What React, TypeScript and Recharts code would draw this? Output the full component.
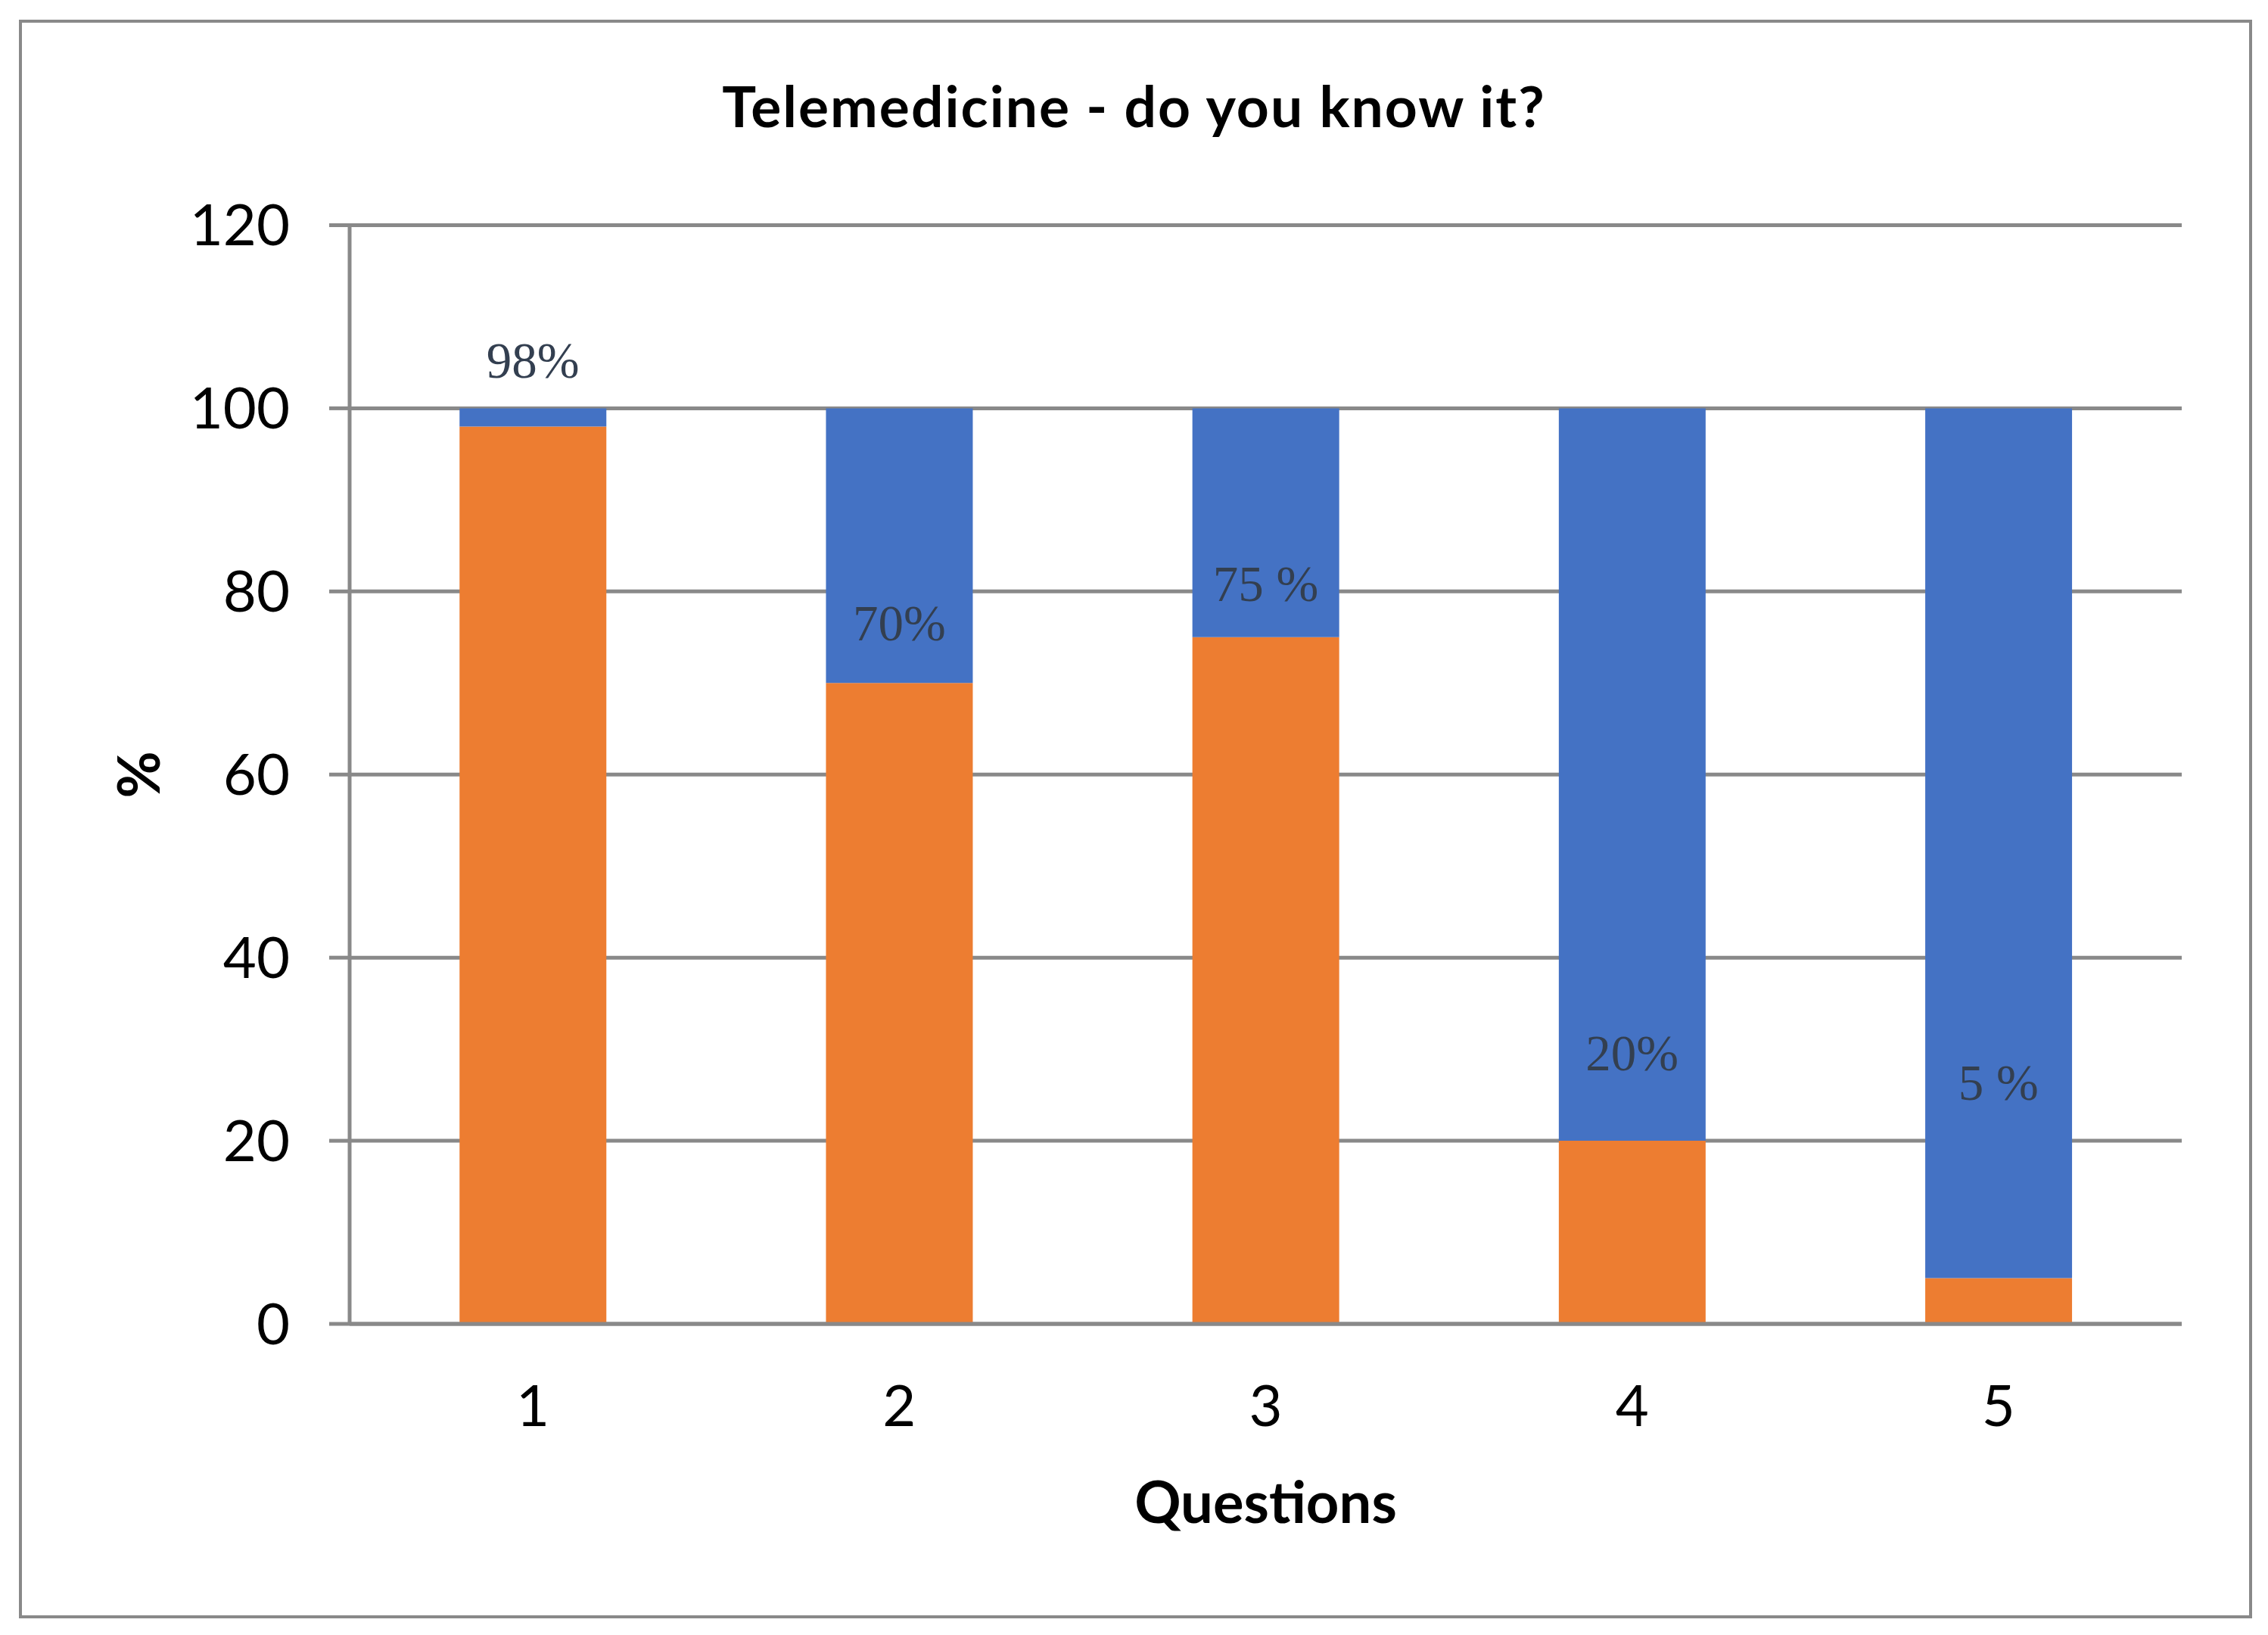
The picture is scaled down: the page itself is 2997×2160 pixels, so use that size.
import {
	Bar,
	BarChart,
	CartesianGrid,
	ReferenceDot,
	XAxis,
	YAxis,
} from "recharts";

const questions = [1, 2, 3, 4, 5];
const knownValues = [98, 70, 75, 20, 5];
const unknownValues = [2, 30, 25, 80, 95];
const labelTexts = ["98%", "70%", "75 %", "20%", "5 %"];
// level (in %) where each hand-placed annotation sits
const labelLevels = [105.3, 76.6, 80.9, 29.7, 26.4];
const yTicks = [0, 20, 40, 60, 80, 100, 120];

const data = questions.map((q, i) => ({
	q,
	known: knownValues[i],
	unknown: unknownValues[i],
}));

const GRID = "#898989";
const FONT = "Lato, 'Open Sans', sans-serif";

function PercentTitle({ viewBox }: any) {
	const cy = viewBox.y + viewBox.height / 2;
	return (
		<text
			fill="#000"
			fontFamily={FONT}
			fontSize={76}
			fontWeight={700}
			textAnchor="middle"
			transform={`translate(211, ${cy}) rotate(-90)`}
		>
			%
		</text>
	);
}

export default function App() {
	return (
		<div
			style={{
				position: "absolute",
				left: 0,
				top: 0,
				width: 2997,
				height: 2160,
				background: "#fff",
			}}
		>
			<div
				style={{
					position: "absolute",
					left: 25,
					top: 26,
					width: 2951,
					height: 2112,
					boxSizing: "border-box",
					border: `4px solid ${GRID}`,
				}}
			/>
			<div
				style={{
					position: "absolute",
					left: 0,
					top: 102,
					width: 2997,
					textAlign: "center",
					fontFamily: FONT,
					fontWeight: 700,
					fontSize: 75,
					lineHeight: "75px",
					letterSpacing: 2,
					color: "#000",
				}}
			>
				Telemedicine - do you know it?
			</div>
			<div style={{ position: "absolute", left: 0, top: 0 }}>
				<BarChart
					barCategoryGap="30%"
					data={data}
					height={2160}
					margin={{ top: 297.5, right: 114, bottom: 111, left: 0 }}
					width={2997}
				>
					<CartesianGrid stroke={GRID} strokeWidth={5} vertical={false} />
					<XAxis
						axisLine={{ stroke: GRID, strokeWidth: 5 }}
						dataKey="q"
						height={300}
						label={{
							value: "Questions",
							position: "insideBottom",
							offset: 37,
							fill: "#000",
							fontFamily: FONT,
							fontSize: 76,
							fontWeight: 700,
						}}
						tick={{ fill: "#000", fontFamily: FONT, fontSize: 76 }}
						tickLine={false}
						tickMargin={81}
						tickSize={0}
					/>
					<YAxis
						axisLine={{ stroke: GRID, strokeWidth: 5 }}
						domain={[0, 120]}
						label={{ content: PercentTitle }}
						tick={{ fill: "#000", fontFamily: FONT, fontSize: 76 }}
						tickLine={{ stroke: GRID, strokeWidth: 5 }}
						tickMargin={52}
						tickSize={27}
						ticks={yTicks}
						type="number"
						width={462}
					/>
					<Bar
						dataKey="known"
						fill="#ED7D31"
						isAnimationActive={false}
						stackId="a"
					/>
					<Bar
						dataKey="unknown"
						fill="#4472C4"
						isAnimationActive={false}
						stackId="a"
					/>
					{questions.map((q, i) => (
						<ReferenceDot
							fill="none"
							key={q}
							label={{
								value: labelTexts[i],
								position: "center",
								fill: "#333F50",
								fontFamily: "'Liberation Serif', 'Times New Roman', serif",
								fontSize: 67,
							}}
							r={1}
							stroke="none"
							x={q}
							y={labelLevels[i]}
						/>
					))}
				</BarChart>
			</div>
		</div>
	);
}
